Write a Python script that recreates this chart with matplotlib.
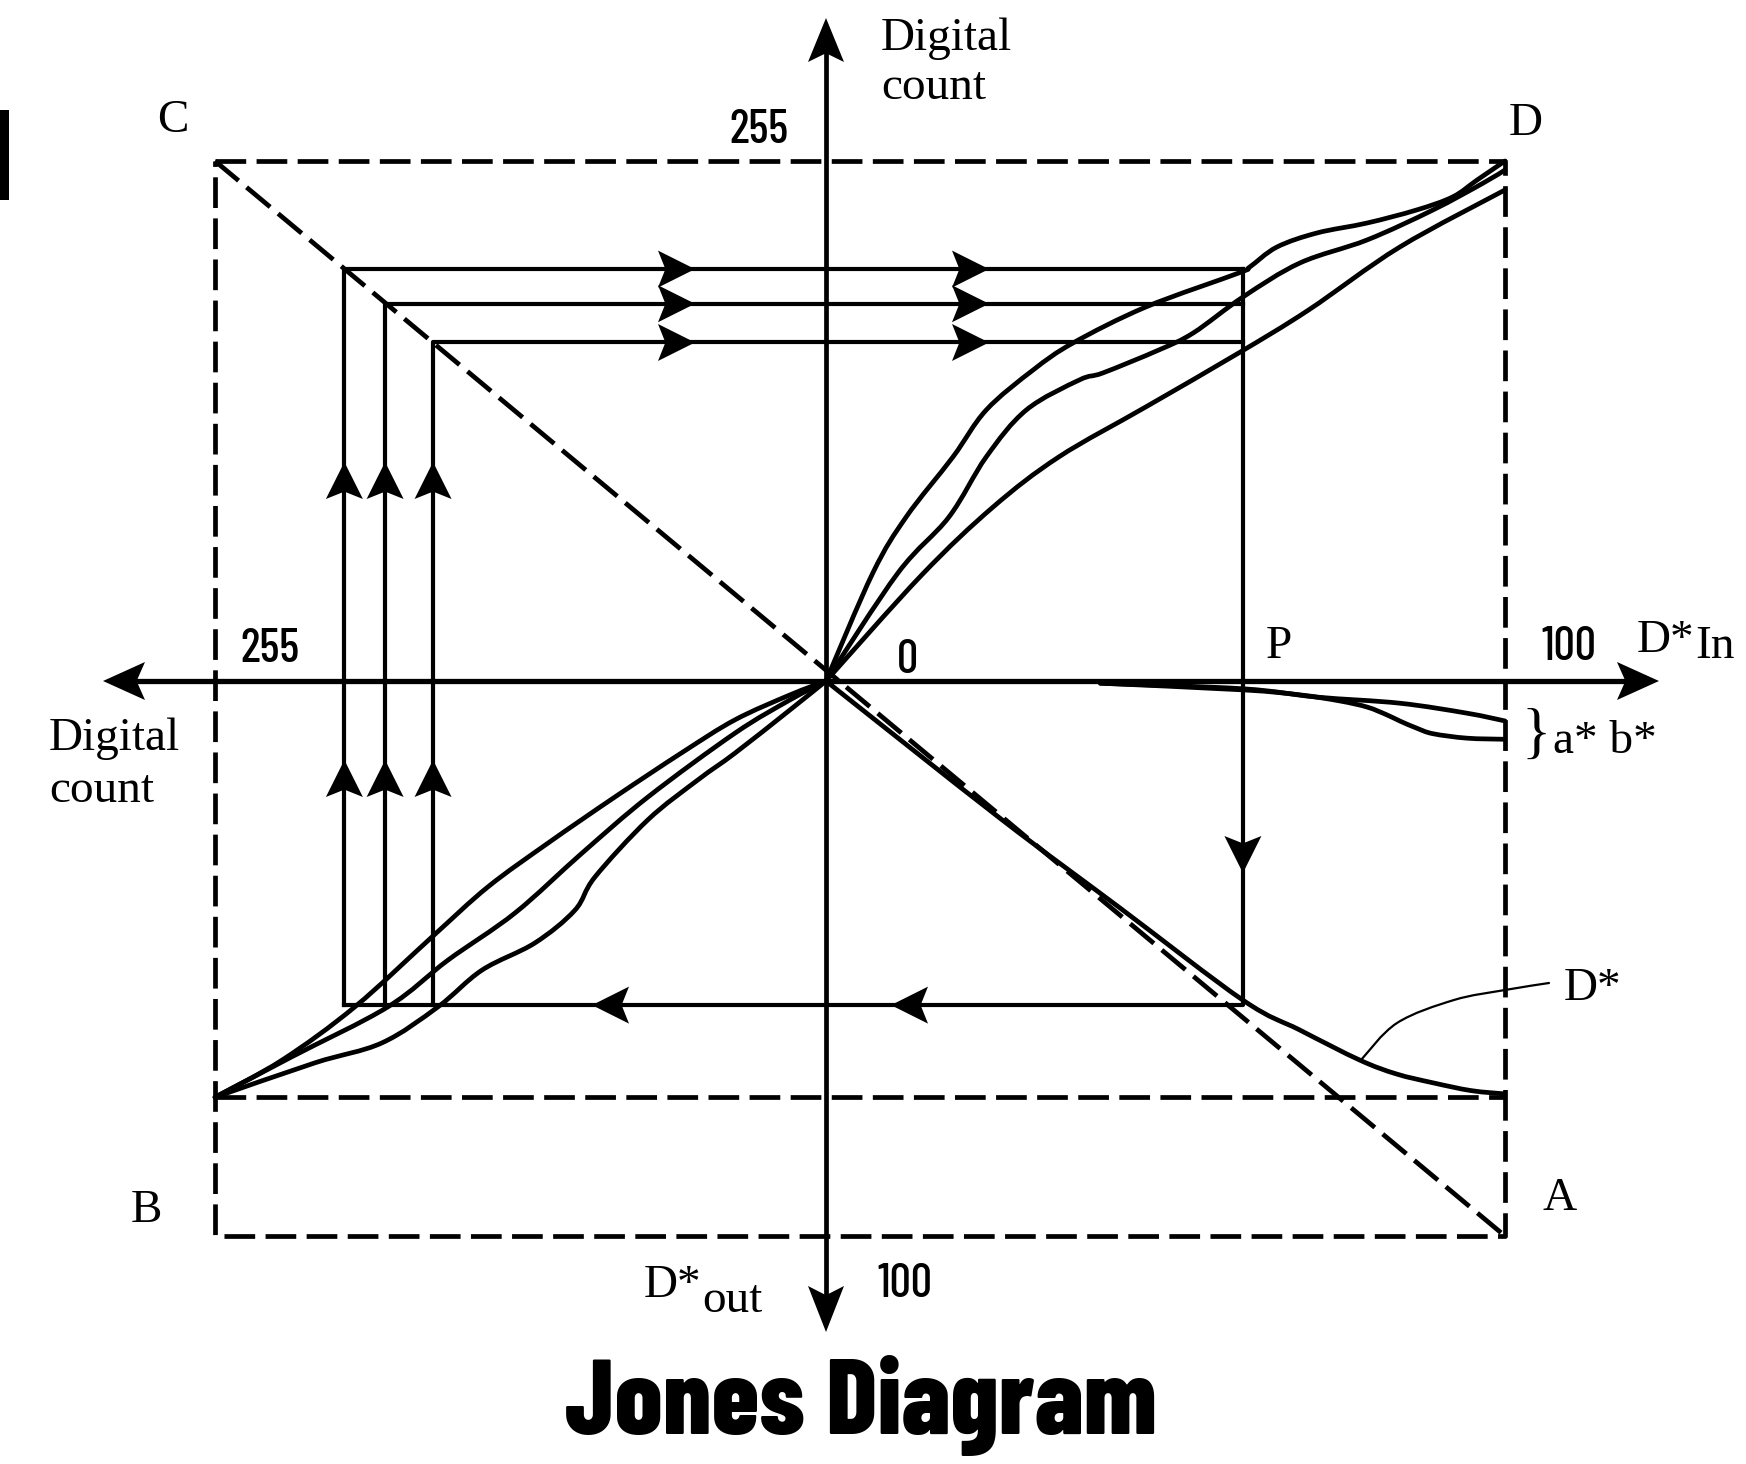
import matplotlib
matplotlib.use("Agg")
import matplotlib.pyplot as plt
from matplotlib.path import Path
from matplotlib.patches import PathPatch
import numpy as np

# where the two axes cross ("0") and the length of each half-axis, in page pixels
OX, OY = 826, 681
DIN_PX = 679 / 100      # D*In, to the right, 0..100
DOUT_PX = 555 / 100     # D*out, downwards, 0..100
UP_PX = 520 / 255       # digital count, upwards, 0..255
LEFT_PX = 611 / 255     # digital count, to the left, 0..255

# quadrant I : D*In -> digital count, three channels
q1_din_a = [0, 6.9, 11.8, 18.7, 23.6, 30.5, 36.4, 47.1, 60.8, 62.4, 66.4, 72.3, 79.7, 87.0, 92.3, 95.9, 100]
q1_cnt_a = [0, 53.0, 80.4, 109.9, 132.9, 152.5, 165.8, 183.4, 200.1, 203.0, 212.8, 219.7, 224.6, 231.0, 237.4, 245.7, 255]
q1_din_b = [0, 10.6, 18.1, 23.6, 29.5, 37.3, 40.8, 49.0, 54.1, 61.4, 69.8, 79.7, 89.4, 96.8, 100]
q1_cnt_b = [0, 53.0, 80.4, 109.9, 132.9, 147.6, 151.1, 162.3, 170.7, 188.3, 205.0, 216.3, 231.0, 244.2, 250.6]
q1_din_c = [0, 14.1, 24.6, 34.3, 47.1, 60.8, 71.1, 84.5, 100]
q1_cnt_c = [0, 52.0, 85.3, 109.9, 134.4, 160.9, 182.0, 212.8, 240.8]

# quadrant III : digital count -> D*out, three channels
q3_cnt_a = [255, 227.0, 196.6, 164.4, 141.1, 116.0, 88.1, 60.1, 38.0, 15.0, 0]
q3_dout_a = [75.0, 68.3, 58.7, 46.1, 37.1, 29.2, 20.9, 12.9, 7.0, 2.5, 0]
q3_cnt_b = [255, 222.9, 182.8, 157.8, 129.8, 101.8, 74.3, 38.0, 15.0, 0]
q3_dout_b = [75.0, 67.7, 58.7, 50.3, 41.8, 31.0, 20.9, 9.4, 3.4, 0]
q3_cnt_c = [255, 213.3, 185.3, 161.9, 143.6, 121.5, 104.8, 96.4, 74.3, 53.4, 38.0, 15.0, 0]
q3_dout_c = [75.0, 68.8, 65.2, 58.7, 52.1, 47.2, 41.3, 35.3, 25.0, 17.8, 13.0, 5.2, 0]

# quadrant IV : D*In -> D*out (D*), and the a*, b* errors
d_din = [0, 25.6, 43.3, 61.4, 69.8, 78.6, 84.0, 89.4, 95.0, 100]
d_dout = [0, 24.7, 40.9, 57.5, 62.9, 68.3, 70.8, 72.4, 73.8, 74.4]
a_din = [40.4, 61.4, 72.3, 84.5, 94.4, 100]
a_dout = [0.4, 1.4, 2.9, 4.0, 5.8, 7.2]
b_din = [40.4, 61.4, 69.8, 75.7, 79.7, 82.6, 84.5, 87.0, 89.4, 94.4, 100]
b_dout = [0.4, 1.6, 2.5, 3.6, 4.7, 6.1, 7.2, 8.5, 9.5, 10.3, 10.5]

# the traced path through the diagram
loop_cnt_left = [201, 184, 164]
loop_cnt_up = [202, 185, 166]
p_din = 61.4
p_dout = 58.4
box_cnt = 255
box_din = 100
box_dout = 100
inner_dout = 75


def right(v):
    return OX + np.asarray(v, dtype=float) * DIN_PX


def left(v):
    return OX - np.asarray(v, dtype=float) * LEFT_PX


def up(v):
    return OY - np.asarray(v, dtype=float) * UP_PX


def down(v):
    return OY + np.asarray(v, dtype=float) * DOUT_PX


fig = plt.figure(figsize=(17.46, 14.64), dpi=100)
ax = fig.add_axes([0, 0, 1, 1])
ax.set_xlim(0, 1746)
ax.set_ylim(1464, 0)
ax.axis('off')

K = 'black'
LW = 3.4


def curve(xs, ys, lw=LW):
    # smooth bezier through the read points (catmull-rom control points)
    pts = np.column_stack([xs, ys])
    verts = [pts[0]]
    codes = [Path.MOVETO]
    n = len(pts)
    for i in range(n - 1):
        p0 = pts[i - 1] if i > 0 else pts[i]
        p1, p2 = pts[i], pts[i + 1]
        p3 = pts[i + 2] if i + 2 < n else pts[i + 1]
        verts += [p1 + (p2 - p0) / 6, p2 - (p3 - p1) / 6, p2]
        codes += [Path.CURVE4] * 3
    ax.add_patch(PathPatch(Path(verts, codes), fill=False, ec=K, lw=lw,
                           capstyle='round', joinstyle='round'))


def head(tip, d, length=37, width=37):
    tx, ty = tip
    dx, dy = d
    bx, by = tx - dx * length, ty - dy * length
    nx, ny = tx - dx * length * 0.8, ty - dy * length * 0.8
    px, py = -dy * width / 2, dx * width / 2
    ax.fill([tx, bx + px, nx, bx - px], [ty, by + py, ny, by - py], color=K, lw=0, zorder=5)


# dashed frame, B line and the C-A diagonal
dash = dict(color=K, lw=3.4, ls=(0, (6.5, 2.2)))
xl, xr = float(left(box_cnt)), float(right(box_din))
yt, yb = float(up(box_cnt)), float(down(box_dout))
ax.plot([xl, xr, xr, xl, xl], [yt, yt, yb, yb, yt], **dash)
ax.plot([xl, xr], [down(inner_dout)] * 2, **dash)
ax.plot([xl, xr], [yt, yb], **dash)

# axes with arrow heads
ax.plot([115, 1645], [OY, OY], color=K, lw=3.8)
ax.plot([OX, OX], [30, 1320], color=K, lw=3.4)
head((103, OY), (-1, 0), 42, 38)
head((1659, OY), (1, 0), 42, 38)
head((OX, 18), (0, -1), 44, 36)
head((OX, 1332), (0, 1), 46, 36)

# curves
for x, y in [(q1_din_a, q1_cnt_a), (q1_din_b, q1_cnt_b), (q1_din_c, q1_cnt_c)]:
    curve(right(x), up(y))
for x, y in [(q3_cnt_a, q3_dout_a), (q3_cnt_b, q3_dout_b), (q3_cnt_c, q3_dout_c)]:
    curve(left(x), down(y))
for x, y in [(d_din, d_dout), (a_din, a_dout), (b_din, b_dout)]:
    curve(right(x), down(y))

# the three traced loops
px_p = float(right(p_din))
py_p = float(down(p_dout))
for cl, cu in zip(loop_cnt_left, loop_cnt_up):
    xv, yh = float(left(cl)), float(up(cu))
    ax.plot([xv, xv, px_p], [py_p, yh, yh], color=K, lw=3.0)
    head((695, yh), (1, 0))
    head((989, yh), (1, 0))
    head((xv, 462), (0, -1))
    head((xv, 760), (0, -1))
ax.plot([px_p, px_p, float(left(loop_cnt_left[0]))],
        [float(up(loop_cnt_up[0])), py_p, py_p], color=K, lw=3.0)
head((px_p, 873), (0, 1))
head((592, py_p), (-1, 0))
head((891, py_p), (-1, 0))

# leader for the D* label
curve([1361, 1397, 1454, 1505, 1549], [1060, 1023, 1000, 990, 983], lw=1.6)

# left edge bar of the scan
ax.add_patch(plt.Rectangle((0, 110), 9, 90, color=K, lw=0))

serif = ['Liberation Serif', 'DejaVu Serif']
cond = ['Barlow Condensed', 'DejaVu Sans']
st = dict(family=serif, fontsize=34, color=K, va='baseline')
nt = dict(family=cond, fontsize=34, fontweight=500, color=K, va='baseline', ha='center')

ax.text(173, 132, 'C', ha='center', **st)
ax.text(1526, 135, 'D', ha='center', **st)
ax.text(146, 1222, 'B', ha='center', **st)
ax.text(1560, 1210, 'A', ha='center', **st)
ax.text(1266, 658, 'P', ha='left', **st)
ax.text(881, 50, 'Digital', ha='left', **st)
ax.text(881, 99, 'count', ha='left', **st)
ax.text(49, 750, 'Digital', ha='left', **st)
ax.text(49, 802, 'count', ha='left', **st)
ax.text(1637, 652, 'D*', ha='left', **st)
ax.text(1695, 658, 'In', ha='left', **st)
ax.text(644, 1297, 'D*', ha='left', **st)
ax.text(702, 1312, 'out', ha='left', **st)
ax.text(1553, 753, 'a* b*', ha='left', **st)
ax.text(1564, 1000, 'D*', ha='left', **st)
ax.text(1536, 752, '}', ha='center', family=serif, fontsize=44, color=K, va='baseline')

ax.text(759, 143, '255', **nt)
ax.text(270, 662, '255', **nt)
ax.text(907, 673, '0', **nt)
ax.text(1569, 660, '100', **nt)
ax.text(905, 1297, '100', **nt)

ax.text(861, 1434, 'Jones Diagram', family=cond, fontweight=800, fontsize=77,
        color=K, ha='center', va='baseline')

fig.savefig('out.png', dpi=100, facecolor='white')
